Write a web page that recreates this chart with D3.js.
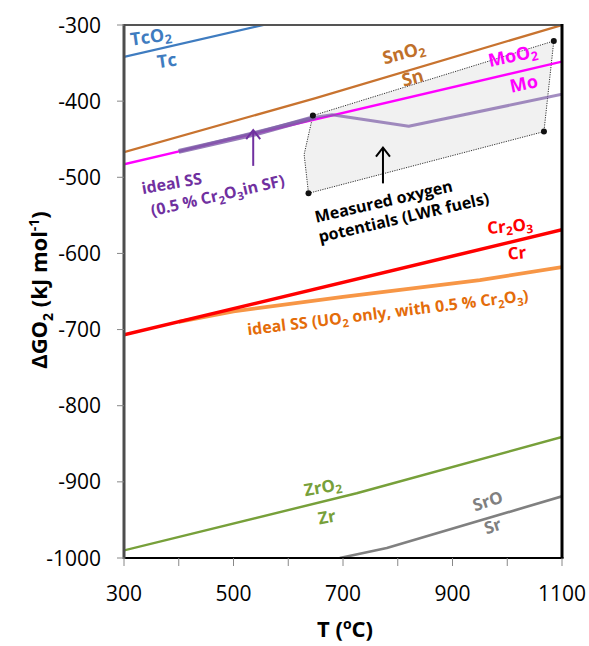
<!DOCTYPE html>
<html><head><meta charset="utf-8">
<script src="https://cdn.jsdelivr.net/npm/d3@7"></script>
<style>
body{margin:0;background:#fff;}
text{font-family:"Open Sans","Noto Sans",sans-serif;}
</style></head>
<body><svg id="c" width="589" height="646"></svg>
<script>
// ---- data (T in °C, ΔG in kJ/mol) ----
const xTicks = [300, 400, 500, 600, 700, 800, 900, 1000, 1100];
const xTickLabels = [300, 500, 700, 900, 1100];
const yTicks = [-1000, -900, -800, -700, -600, -500, -400, -300];

const tcT = [300, 555];            const tcG = [-342, -300];
const snT = [300, 650, 1100];      const snG = [-467, -396, -300];
const moT = [300, 1100];           const moG = [-483, -348];
const ssSfT = [400, 650, 680, 820, 1100]; const ssSfG = [-466, -421, -418, -433, -391];
const ssSfThickT = [400, 540, 650]; const ssSfThickG = [-466, -443, -421];
const crT = [300, 1100];           const crG = [-707, -569];
const ssUoT = [400, 500, 700, 950, 1100]; const ssUoG = [-690, -676, -657, -635, -618];
const zrT = [300, 725, 1100];      const zrG = [-990, -915, -841];
const srT = [694, 780, 1100];      const srG = [-1000, -987, -919];
const measT = [645, 1085, 1067, 637, 629]; const measG = [-419, -321, -440, -521, -470];
const measDotIdx = [0, 1, 2, 3];
const arrowT = [536, 773]; const arrowFrom = [-485, -508]; const arrowTo = [-438, -461];

// ---- layout ----
const svg = d3.select("#c");
const L = 124, T = 25, R = 562, B = 558;
const x = d3.scaleLinear().domain([300, 1100]).range([L, R]);
const y = d3.scaleLinear().domain([-1000, -300]).range([B, T]);

svg.append("clipPath").attr("id","clip").append("rect")
  .attr("x", L).attr("y", T).attr("width", R-L).attr("height", B-T);
const g = svg.append("g").attr("clip-path","url(#clip)");

const line = d3.line().x(d=>x(d[0])).y(d=>y(d[1]));
const zipd = (a,b)=>a.map((v,i)=>[v,b[i]]);

// measured polygon
g.append("path").datum(zipd(measT, measG))
  .attr("d", d=>line(d)+"Z").attr("fill","#efefef").attr("fill-opacity",0.85)
  .attr("stroke","#333").attr("stroke-width",1).attr("stroke-dasharray","1.2,1.2");

function series(tA, gA, color, w, op){
  g.append("path").datum(zipd(tA,gA)).attr("d", line).attr("fill","none")
   .attr("stroke", color).attr("stroke-width", w).attr("stroke-opacity", op||1)
   .attr("stroke-linejoin","round");
}
series(tcT, tcG, "#3f7cc0", 2.2);
series(snT, snG, "#c8732f", 2.2);
series(ssUoT, ssUoG, "#f79646", 3.8);
series(crT, crG, "#ff0000", 3.5);
series(zrT, zrG, "#77a03a", 2.4);
series(srT, srG, "#808080", 2.6);
series(moT, moG, "#ff00ff", 2.4);
series(ssSfT, ssSfG, "#7c5ca6", 3, 0.7);
series(ssSfThickT, ssSfThickG, "#7c5ca6", 5, 0.8);

// measured dots
g.selectAll("circle.m").data(measDotIdx).enter().append("circle")
  .attr("cx", i=>x(measT[i])).attr("cy", i=>y(measG[i])).attr("r", 3).attr("fill","#111");

// arrows
const arrowCol = ["#7030a0", "#000"];
arrowT.forEach((t,i)=>{
  const ax = x(t), y0 = y(arrowFrom[i]), y1 = y(arrowTo[i]);
  svg.append("line").attr("x1",ax).attr("x2",ax).attr("y1",y0).attr("y2",y1+1)
    .attr("stroke",arrowCol[i]).attr("stroke-width",2);
  svg.append("path").attr("d",`M${ax-7},${y1+9} L${ax},${y1} L${ax+7},${y1+9}`)
    .attr("fill","none").attr("stroke",arrowCol[i]).attr("stroke-width",2);
});

// frame
svg.append("line").attr("x1",L).attr("x2",R).attr("y1",T).attr("y2",T).attr("stroke","#555").attr("stroke-width",2);
svg.append("line").attr("x1",R).attr("x2",R).attr("y1",T-1).attr("y2",B).attr("stroke","#000").attr("stroke-width",3);
svg.append("line").attr("x1",L).attr("x2",R+1.5).attr("y1",B).attr("y2",B).attr("stroke","#000").attr("stroke-width",2.2);
svg.append("line").attr("x1",L).attr("x2",L).attr("y1",T-1).attr("y2",B+1).attr("stroke","#4d4d4d").attr("stroke-width",3);

// ticks
svg.selectAll("line.yt").data(yTicks).enter().append("line")
  .attr("x1",L-7).attr("x2",L).attr("y1",d=>y(d)).attr("y2",d=>y(d)).attr("stroke","#888").attr("stroke-width",1);
svg.selectAll("text.yl").data(yTicks).enter().append("text")
  .attr("x",L-23).attr("y",d=>y(d)+7.5).attr("text-anchor","end")
  .attr("font-size",21).attr("fill","#000").text(d=>d);
svg.selectAll("line.xt").data(xTicks).enter().append("line")
  .attr("x1",d=>x(d)).attr("x2",d=>x(d)).attr("y1",B).attr("y2",B+8).attr("stroke","#888").attr("stroke-width",1);
svg.selectAll("text.xl").data(xTickLabels).enter().append("text")
  .attr("x",d=>x(d)).attr("y",B+43).attr("text-anchor","middle")
  .attr("font-size",21).attr("fill","#000").text(d=>d);

// axis titles
const xt = svg.append("text").attr("x",345).attr("y",637).attr("text-anchor","middle")
  .attr("font-size",22).attr("font-weight","bold");
xt.append("tspan").text("T (");
xt.append("tspan").attr("font-size",14).attr("dy",-8).text("o");
xt.append("tspan").attr("dy",8).text("C)");
const yt = svg.append("text").attr("transform","translate(47,290) rotate(-90)")
  .attr("text-anchor","middle").attr("font-size",22).attr("font-weight","bold");
yt.append("tspan").text("ΔGO");
yt.append("tspan").attr("font-size",14).attr("dy",6).text("2");
yt.append("tspan").attr("dy",-6).text(" (kJ mol");
yt.append("tspan").attr("font-size",14).attr("dy",-8).text("-1");
yt.append("tspan").attr("dy",8).text(")");

// labels
function label(cx, cy, ang, color, parts, size){
  const t = svg.append("text").attr("transform",`translate(${cx},${cy}) rotate(${ang})`)
    .attr("text-anchor","middle").attr("dominant-baseline","middle")
    .attr("font-size",size||17).attr("font-weight","bold").attr("fill",color);
  let cur = 0;
  parts.forEach(p=>{
    const s = t.append("tspan").text(p[0]);
    const want = p[1]||0;
    if (want !== cur){ s.attr("dy", want-cur); cur = want; }
    if (p[1]) s.attr("font-size", (size||17)*0.7);
  });
}
label(151,38,-8,"#3f7cc0",[["TcO"],["2",5]],18);
label(167,62,-8,"#3f7cc0",[["Tc"]],18);
label(404,54,-15,"#c0702a",[["SnO"],["2",5]],18);
label(413,79,-15,"#c0702a",[["Sn"]],18);
label(513,57,-12,"#ff00ff",[["MoO"],["2",5]],18);
label(524,85,-12,"#ff00ff",[["Mo"]],18);
label(172,185,-10,"#7030a0",[["ideal SS"]],16);
label(218,197,-13,"#7030a0",[["(0.5 % Cr"],["2",5],["O",0],["3",5],["in SF)",0]],16);
label(384,203,-13,"#000",[["Measured oxygen"]],16);
label(404,219,-13,"#000",[["potentials (LWR fuels)"]],16);
label(510,227,-5,"#ff0000",[["Cr"],["2",5],["O",0],["3",5]],17);
label(517,254,-5,"#ff0000",[["Cr"]],17);
label(388,314,-7,"#e46c0a",[["ideal SS (UO"],["2",5],[" only, with 0.5 % Cr",0],["2",5],["O",0],["3",5],[")",0]],16);
label(323,488,-10,"#77a03a",[["ZrO"],["2",5]],17);
label(327,518,-10,"#77a03a",[["Zr"]],17);
label(488,502,-18,"#808080",[["SrO"]],17);
label(493,527,-18,"#808080",[["Sr"]],17);
</script></body></html>
